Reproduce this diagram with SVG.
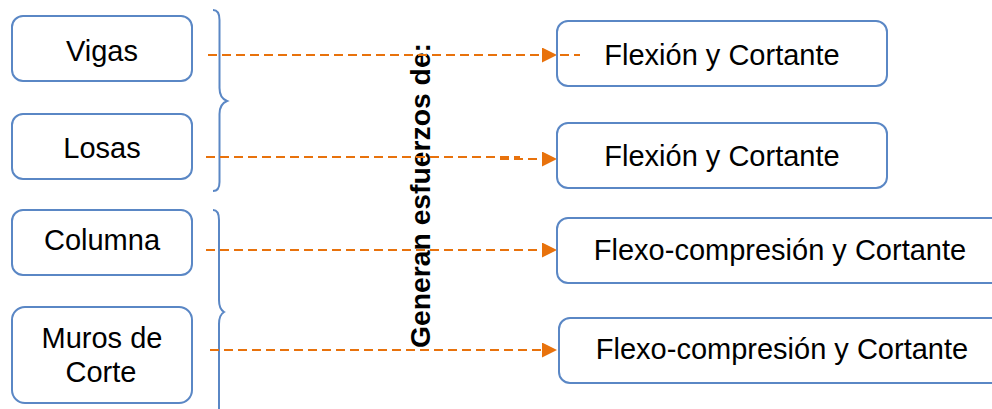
<svg xmlns="http://www.w3.org/2000/svg" width="992" height="409" viewBox="0 0 992 409">
  <defs>
    <style>
      .box { fill: #ffffff; stroke: #5a87c5; stroke-width: 2; }
      .lbl { font-family: "Liberation Sans", Arial, sans-serif; font-size: 29px; fill: #000000; text-anchor: middle; }
      .title { font-family: "Liberation Sans", Arial, sans-serif; font-size: 28.3px; font-weight: bold; fill: #000000; text-anchor: middle; }
      .brace { fill: none; stroke: #5a87c5; stroke-width: 2; }
      .link { fill: none; stroke: #e8720c; stroke-width: 2.2; stroke-dasharray: 9 5; }
    </style>
    <marker id="arrow" viewBox="0 0 15 15" refX="15" refY="7.5" markerWidth="15" markerHeight="15" markerUnits="userSpaceOnUse" orient="auto">
      <path d="M0,0 L15,7.5 L0,15 Z" fill="#e8720c"/>
    </marker>
  </defs>

  <rect width="992" height="409" fill="#ffffff"/>

  <!-- element boxes (left) -->
  <g id="vigas">
    <rect class="box" x="12" y="16" width="180" height="65" rx="11"/>
    <text class="lbl" x="102" y="61">Vigas</text>
  </g>
  <g id="losas">
    <rect class="box" x="12" y="114" width="180" height="65" rx="11"/>
    <text class="lbl" x="102" y="158">Losas</text>
  </g>
  <g id="columna">
    <rect class="box" x="12" y="210" width="180" height="65" rx="11"/>
    <text class="lbl" x="102" y="250">Columna</text>
  </g>
  <g id="muros">
    <rect class="box" x="12" y="307" width="180" height="96" rx="13"/>
    <text class="lbl" x="102" y="348">Muros de</text>
    <text class="lbl" x="101" y="382">Corte</text>
  </g>

  <!-- grouping braces -->
  <g id="braces">
    <path class="brace" d="M213,10 Q219.5,10 219.5,20 L219.5,88 Q219.5,98 227,101 Q219.5,104 219.5,114 L219.5,182 Q219.5,191 213,191"/>
    <path class="brace" d="M213,210 Q219,210 219,220 L219,300 Q219,309 224,312 Q219,315 219,324 L219,409"/>
  </g>

  <!-- vertical caption -->
  <g id="caption">
    <text class="title" transform="translate(430,195.5) rotate(-90)">Generan esfuerzos de:</text>
  </g>

  <!-- connectors -->
  <g id="connectors">
    <line class="link" x1="208" y1="55" x2="557" y2="55" marker-end="url(#arrow)"/>
    <line class="link" x1="206" y1="157" x2="520" y2="157"/>
    <line class="link" x1="500" y1="159" x2="557" y2="159" marker-end="url(#arrow)"/>
    <line class="link" x1="206" y1="250" x2="557" y2="250" marker-end="url(#arrow)"/>
    <line class="link" x1="210" y1="350" x2="557" y2="350" marker-end="url(#arrow)"/>
  </g>

  <!-- effect boxes (right) -->
  <g id="flexion-1">
    <rect class="box" x="557" y="21" width="330" height="65" rx="11"/>
    <text class="lbl" x="722" y="65">Flexión y Cortante</text>
  </g>
  <g id="flexion-2">
    <rect class="box" x="557" y="123" width="330" height="65" rx="11"/>
    <text class="lbl" x="722" y="166">Flexión y Cortante</text>
  </g>
  <g id="flexo-1">
    <rect class="box" x="557" y="218" width="460" height="65" rx="11"/>
    <text class="lbl" x="780" y="260">Flexo-compresión y Cortante</text>
  </g>
  <g id="flexo-2">
    <rect class="box" x="559" y="318" width="460" height="65" rx="11"/>
    <text class="lbl" x="782" y="359">Flexo-compresión y Cortante</text>
  </g>

  <!-- dashed tail of the first connector, drawn over the box edge -->
  <line class="link" x1="560" y1="55" x2="580" y2="55"/>
</svg>
